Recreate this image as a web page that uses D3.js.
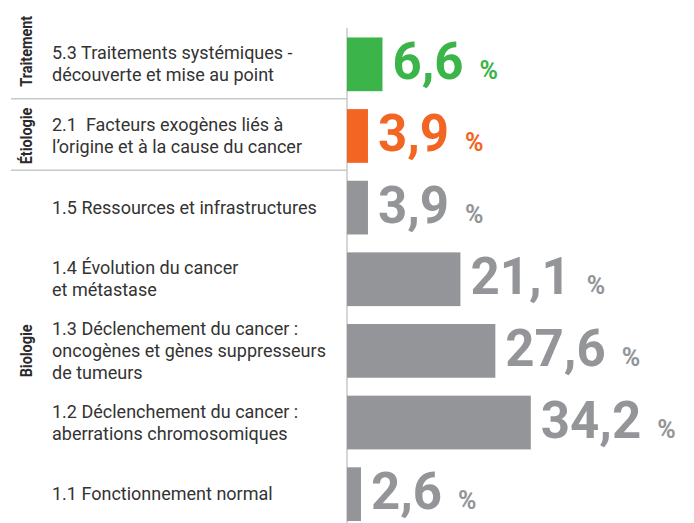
<!DOCTYPE html>
<html>
<head>
<meta charset="utf-8">
<script src="https://cdn.jsdelivr.net/npm/d3@7"></script>
<style>
  body { margin: 0; background: #fff; }
  svg { font-family: Roboto, "Noto Sans", sans-serif; }
  text.cat { white-space: pre; }
</style>
</head>
<body>
<div id="chart"></div>
<script>
// categories, top to bottom
var codes = ["5.3", "2.1", "1.5", "1.4", "1.3", "1.2", "1.1"];
var labels = [
  ["5.3 Traitements systémiques -", "découverte et mise au point"],
  ["2.1  Facteurs exogènes liés à", "l’origine et à la cause du cancer"],
  ["1.5 Ressources et infrastructures"],
  ["1.4 Évolution du cancer", "et métastase"],
  ["1.3 Déclenchement du cancer :", "oncogènes et gènes suppresseurs", "de tumeurs"],
  ["1.2 Déclenchement du cancer :", "aberrations chromosomiques"],
  ["1.1 Fonctionnement normal"]
];
var values = [6.6, 3.9, 3.9, 21.1, 27.6, 34.2, 2.6];
var groupOf = ["Traitement", "Étiologie", "Biologie", "Biologie", "Biologie", "Biologie", "Biologie"];
var groups = ["Traitement", "Étiologie", "Biologie"];
var groupColors = ["#3bb54a", "#f26522", "#939598"];

var svgWidth = 694;
var svgHeight = 523;
var axisX = 347;
// the top group name sits a bit higher than its band
var groupNudge = { "Traitement": -13 };

var svg = d3.select("#chart")
    .append("svg")
    .attr("width", svgWidth)
    .attr("height", svgHeight);

var y = d3.scaleBand()
    .domain(codes)
    .range([28.5, 530])
    .paddingInner(0.25)
    .paddingOuter(0.125);

var x = d3.scaleLinear()
    .domain([0, 40])
    .range([axisX, axisX + 215]);

var color = d3.scaleOrdinal().domain(groups).range(groupColors);

var rows = codes.map(function(c, i) {
    return { code: c, lines: labels[i], value: values[i], group: groupOf[i] };
});

// vertical axis line
svg.append("line")
    .attr("x1", axisX).attr("x2", axisX)
    .attr("y1", 28).attr("y2", svgHeight)
    .attr("stroke", "#c8c8c8")
    .attr("stroke-width", 1.5);

// group separators
var step = y.step();
groups.slice(0, -1).forEach(function(g) {
    var last = rows.filter(d => d.group === g).pop();
    var sy = y(last.code) + y.bandwidth() + step * 0.25 / 2 - 1.5;
    svg.append("line")
        .attr("x1", 11).attr("x2", axisX)
        .attr("y1", sy).attr("y2", sy)
        .attr("stroke", "#c8c8c8")
        .attr("stroke-width", 1.5);
});

// group names, rotated
groups.forEach(function(g) {
    var members = rows.filter(d => d.group === g);
    var top = y(members[0].code);
    var bottom = y(members[members.length - 1].code) + y.bandwidth();
    var cy = (top + bottom) / 2 + (groupNudge[g] || 0);
    svg.append("text")
        .attr("transform", "translate(32," + cy + ") rotate(-90) scale(0.9,1)")
        .attr("text-anchor", "middle")
        .attr("font-size", 16)
        .attr("font-weight", "bold")
        .attr("fill", "#2b2b2b")
        .text(g);
});

// bars
svg.selectAll("rect.bar")
    .data(rows)
    .enter().append("rect")
    .attr("class", "bar")
    .attr("x", x(0))
    .attr("y", d => y(d.code))
    .attr("width", d => x(d.value) - x(0))
    .attr("height", y.bandwidth())
    .attr("fill", d => color(d.group));

// category labels
var lineH = 22;
svg.selectAll("text.cat")
    .data(rows)
    .enter().append("text")
    .attr("class", "cat")
    .attr("font-size", 18)
    .attr("fill", "#333")
    .each(function(d) {
        var cy = y(d.code) + y.bandwidth() / 2;
        var first = cy - (d.lines.length - 1) * lineH / 2 + 6;
        d3.select(this).selectAll("tspan")
            .data(d.lines)
            .enter().append("tspan")
            .attr("x", 52)
            .attr("y", (l, i) => first + i * lineH)
            .text(l => l);
    });

// value labels
var vals = svg.selectAll("text.val")
    .data(rows)
    .enter().append("text")
    .attr("class", "val")
    .attr("x", d => x(d.value) + 10)
    .attr("y", d => y(d.code) + y.bandwidth() / 2 + 15)
    .attr("fill", d => color(d.group))
    .attr("font-weight", "bold");

vals.append("tspan")
    .attr("font-size", 51)
    .text(d => d3.format(".1f")(d.value).replace(".", ","));

vals.append("tspan")
    .attr("font-size", 25)
    .attr("dx", 16)
    .text("%");
</script>
</body>
</html>
